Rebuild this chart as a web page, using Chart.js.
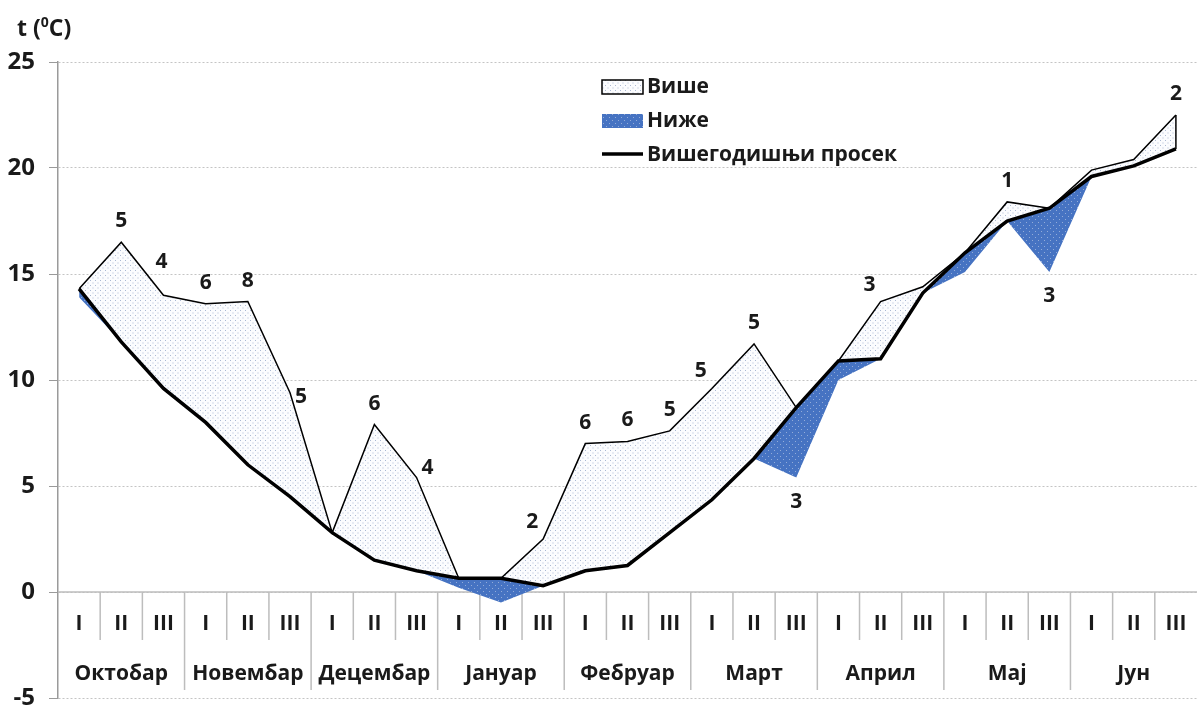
<!DOCTYPE html>
<html lang="sr">
<head>
<meta charset="UTF-8">
<title>Температура по декадама</title>
<script src="https://cdn.jsdelivr.net/npm/chart.js@4"></script>
<style>
body { margin: 0; background: #fff; }
.wrap { width: 1198px; height: 706px; position: relative; }
</style>
</head>
<body>
<div class="wrap"><canvas id="tempChart"></canvas></div>
<script>
// декаде и месеци
const months = ['Октобар', 'Новембар', 'Децембар', 'Јануар', 'Фебруар', 'Март', 'Април', 'Мај', 'Јун'];
const decadeNames = ['I', 'II', 'III'];

// измерена температура по декадама
const actual = [13.9, 16.5, 14.0, 13.6, 13.7, 9.4, 2.8, 7.9, 5.4,
                0.2, -0.5, 2.5, 7.0, 7.1, 7.6, 9.6, 11.7, 5.4,
                10.0, 13.7, 14.4, 15.1, 18.4, 15.1, 19.9, 20.4, 22.5];
// вишегодишњи просек
const average = [14.3, 11.8, 9.6, 8.0, 6.0, 4.5, 2.8, 1.5, 1.0,
                 0.65, 0.65, 0.3, 1.0, 1.25, 2.8, 4.35, 6.3, 8.7,
                 10.9, 11.0, 14.1, 16.0, 17.5, 18.1, 19.6, 20.1, 20.9];
// ознаке изнад тачака
const rankLabels = [null, '5', '4', '6', '8', '5', null, '6', '4',
                    null, null, '2', '6', '6', '5', '5', '5', '3',
                    null, '3', null, null, '1', '3', null, null, '2'];
const rankPlace = [null, 't', 'tt', 't', 't', 'r', null, 't', 'tr',
                   null, null, 'tl', 't', 't', 't', 'tl', 't', 'b',
                   null, 'tl', null, null, 't', 'b', null, null, 't'];
const yMin = -5, yMax = 25, yStep = 5;

const labels = months.flatMap(m => decadeNames.map(d => d + ' ' + m));
const upper = actual.map((v, i) => Math.max(v, average[i]));
const lower = actual.map((v, i) => Math.min(v, average[i]));

const FONT = '"Open Sans", "DejaVu Sans", sans-serif';
const nudge = { t: [0, -21], tt: [-2, -33], r: [11, 4], tr: [11, -10], tl: [-11, -17], b: [0, 24] };

function dots(bg, dot, step) {
    const c = document.createElement('canvas');
    c.width = c.height = step;
    const g = c.getContext('2d');
    g.fillStyle = bg;
    g.fillRect(0, 0, step, step);
    g.fillStyle = dot;
    g.fillRect(0, 0, 1, 1);
    g.fillRect(step / 2, step / 2, 1, 1);
    return g.createPattern(c, 'repeat');
}
const dotFill = dots('#fbfcfe', '#aab8d2', 5);
const blueFill = dots('#4673c2', '#93acd9', 6);

// табела декада/месеци испод нуле
const categoryTable = {
    id: 'categoryTable',
    beforeDatasetsDraw(chart) {
        const { ctx, chartArea, scales: { x, y } } = chart;
        const y0 = y.getPixelForValue(0);
        const yb = y.getPixelForValue(yMin);
        ctx.save();
        ctx.strokeStyle = '#bdbdbd';
        ctx.lineWidth = 1.5;
        ctx.beginPath();
        ctx.moveTo(chartArea.left, y0);
        ctx.lineTo(chartArea.right, y0);
        for (let i = 1; i < labels.length; i++) {
            const bx = (x.getPixelForValue(i - 1) + x.getPixelForValue(i)) / 2;
            ctx.moveTo(bx, y0);
            ctx.lineTo(bx, i % 3 === 0 ? yb - 8 : y0 + 48);
        }
        ctx.stroke();
        ctx.fillStyle = '#1a1a1a';
        ctx.textAlign = 'center';
        ctx.textBaseline = 'middle';
        ctx.font = 'bold 21px ' + FONT;
        labels.forEach((l, i) => {
            ctx.fillText(decadeNames[i % 3], x.getPixelForValue(i), y0 + 32);
        });
        ctx.font = 'bold 21px ' + FONT;
        months.forEach((m, k) => {
            ctx.fillText(m, x.getPixelForValue(k * 3 + 1), y0 + 82);
        });
        ctx.restore();
    }
};

const extras = {
    id: 'extras',
    afterDatasetsDraw(chart) {
        const { ctx, scales: { x, y } } = chart;
        ctx.save();
        // десна ивица површине "Више"
        const last = labels.length - 1;
        const lx = x.getPixelForValue(last);
        ctx.strokeStyle = '#000';
        ctx.lineWidth = 1.5;
        ctx.beginPath();
        ctx.moveTo(lx, y.getPixelForValue(upper[last]));
        ctx.lineTo(lx, y.getPixelForValue(average[last]));
        ctx.stroke();
        // бројеви уз тачке
        ctx.font = 'bold 21px ' + FONT;
        ctx.fillStyle = '#1a1a1a';
        ctx.textAlign = 'center';
        ctx.textBaseline = 'middle';
        rankLabels.forEach((t, i) => {
            if (!t) return;
            const [dx, dy] = nudge[rankPlace[i]];
            ctx.fillText(t, x.getPixelForValue(i) + dx, y.getPixelForValue(actual[i]) + dy);
        });
        ctx.restore();
    },
    afterDraw(chart) {
        const { ctx } = chart;
        ctx.save();
        ctx.fillStyle = '#1a1a1a';
        ctx.textBaseline = 'middle';
        // наслов осе
        ctx.font = 'bold 23px ' + FONT;
        ctx.fillText('t (', 17, 29);
        let w = ctx.measureText('t (').width;
        ctx.font = 'bold 14px ' + FONT;
        ctx.fillText('0', 17 + w, 23);
        let w2 = ctx.measureText('0').width;
        ctx.font = 'bold 23px ' + FONT;
        ctx.fillText('C)', 17 + w + w2, 29);
        // легенда
        const lx = 602, lw = 41;
        ctx.fillStyle = dotFill;
        ctx.fillRect(lx, 80, lw, 14);
        ctx.strokeStyle = '#000';
        ctx.lineWidth = 1.5;
        ctx.strokeRect(lx, 80, lw, 14);
        ctx.fillStyle = blueFill;
        ctx.fillRect(lx, 114, lw, 14);
        ctx.lineWidth = 3.5;
        ctx.beginPath();
        ctx.moveTo(lx, 154);
        ctx.lineTo(lx + lw, 154);
        ctx.stroke();
        ctx.fillStyle = '#1a1a1a';
        ctx.font = 'bold 21px ' + FONT;
        ctx.fillText('Више', lx + lw + 4, 87);
        ctx.fillText('Ниже', lx + lw + 4, 121);
        ctx.fillText('Вишегодишњи просек', lx + lw + 4, 155);
        ctx.restore();
    }
};

const ctx = document.getElementById('tempChart').getContext('2d');
const tempChart = new Chart(ctx, {
    type: 'line',
    data: {
        labels: labels,
        datasets: [{
            label: 'Вишегодишњи просек',
            data: average,
            borderColor: '#000',
            borderWidth: 3.5,
            pointRadius: 0,
            fill: false
        }, {
            label: 'Више',
            data: upper,
            borderColor: '#000',
            borderWidth: 1.5,
            pointRadius: 0,
            fill: { target: 0, above: dotFill, below: 'rgba(0,0,0,0)' }
        }, {
            label: 'Ниже',
            data: lower,
            borderWidth: 0,
            borderColor: 'rgba(0,0,0,0)',
            pointRadius: 0,
            fill: { target: 0, above: 'rgba(0,0,0,0)', below: blueFill }
        }]
    },
    options: {
        responsive: true,
        maintainAspectRatio: false,
        animation: false,
        devicePixelRatio: 1,
        layout: { padding: { top: 62, bottom: 8, right: 1, left: 0 } },
        plugins: { legend: { display: false }, tooltip: { enabled: false } },
        elements: { line: { tension: 0 } },
        scales: {
            x: { display: false, offset: true },
            y: {
                min: yMin,
                max: yMax,
                ticks: {
                    stepSize: yStep,
                    padding: 14,
                    color: '#1a1a1a',
                    font: { family: FONT, size: 24, weight: 'bold' }
                },
                grid: { color: '#c4c4c4', tickColor: '#9a9a9a', tickLength: 9, tickBorderDash: [] },
                border: { display: true, color: '#9a9a9a', width: 1.5, dash: [2, 2] },
                afterFit(scale) {
                    scale.width = 58;
                    scale.paddingTop = 0;
                    scale.paddingBottom = 0;
                }
            }
        }
    },
    plugins: [categoryTable, extras]
});
</script>
</body>
</html>
